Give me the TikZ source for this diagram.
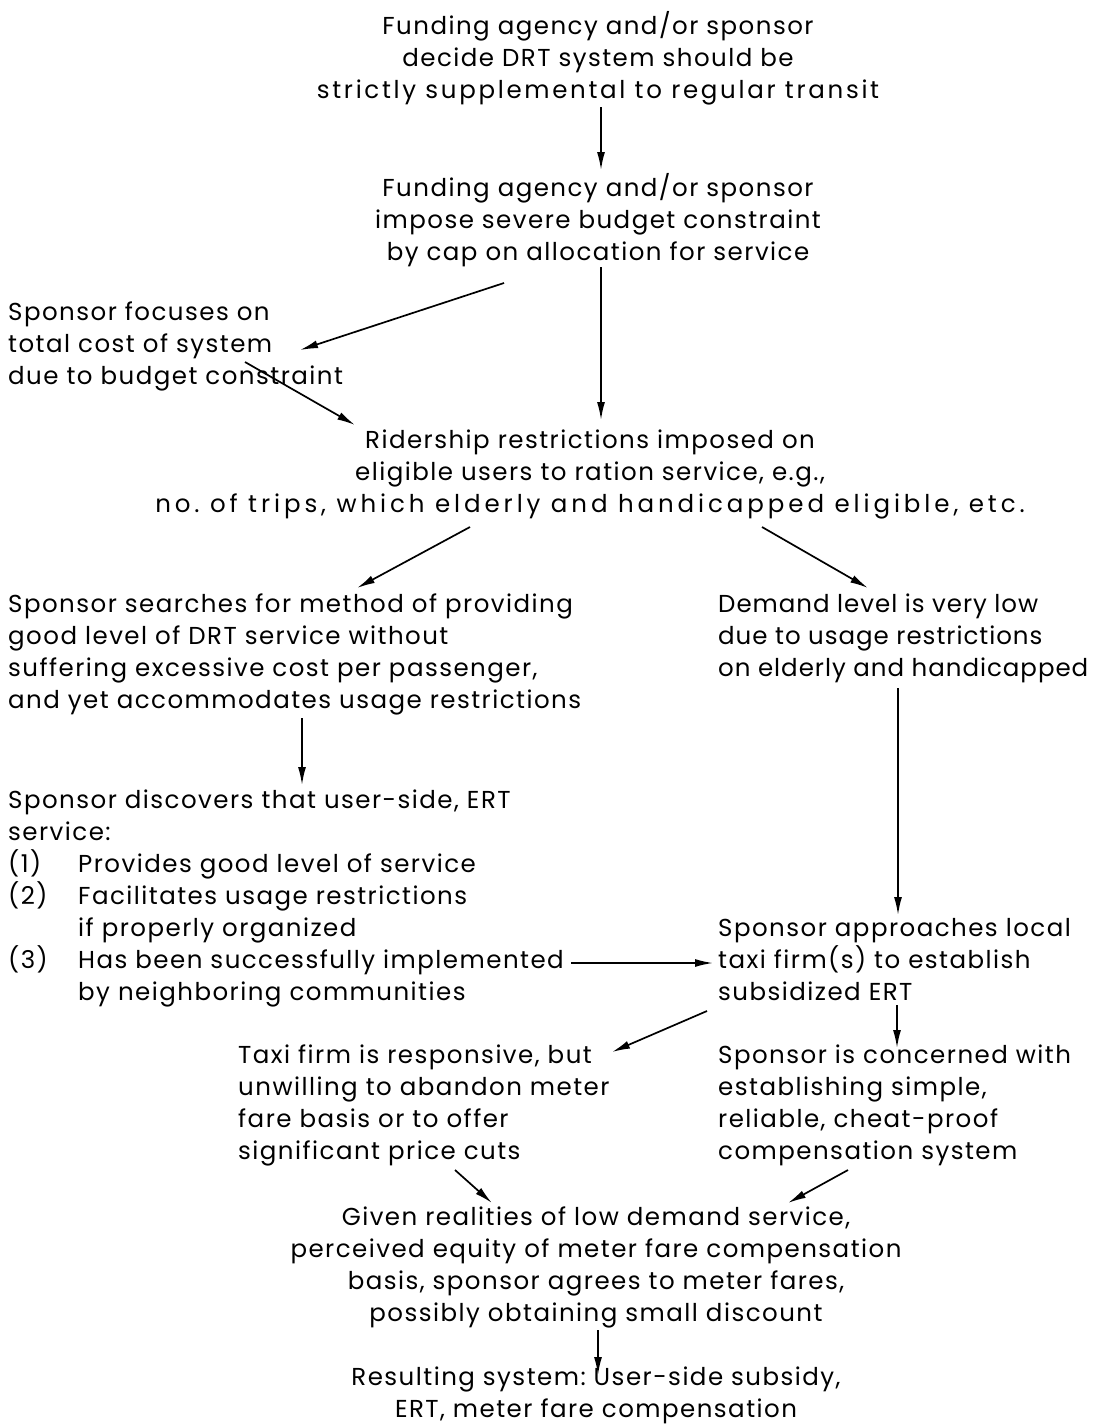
\documentclass[tikz,border=0pt]{standalone}
\usepackage{fontspec}
\setmainfont[LetterSpace=6]{Poppins}
\usetikzlibrary{arrows.meta, calc}
\frenchspacing

\begin{document}
\begin{tikzpicture}[x=1pt, y=-1pt,
		every node/.style={inner sep=0pt, font=\fontsize{24.5}{32}\selectfont},
		flow/.style={line width=1.7pt, -{Latex[length=18pt, width=8pt]}}]
		\useasboundingbox (0,0) rectangle (1096,1427);
		\node[anchor=north, align=center](agency)at(598,11){Funding agency and/or sponsor\\decide DRT system should be\\{\addfontfeature{LetterSpace=11}strictly supplemental to regular transit}};
		\node[anchor=north, align=center](budget)at(598,173){Funding agency and/or sponsor\\impose severe budget constraint\\by cap on allocation for service};
		\node[anchor=north west, align=left](focus)at(8,302){Sponsor focuses on\\total cost of system\\due to budget constraint};
		\node[anchor=north, align=center](rider)at(590,430){Ridership restrictions imposed on\\eligible users to ration service, e.g.,\\{\addfontfeature{LetterSpace=16}no. of trips, which elderly and handicapped eligible, etc.}};
		\node[anchor=north west, align=left](search)at(8,594){Sponsor searches for method of providing\\good level of DRT service without\\suffering excessive cost per passenger,\\and yet accommodates usage restrictions};
		\node[anchor=north west, align=left, font=\fontsize{24.5}{32}\selectfont\addfontfeature{LetterSpace=4}](demand)at(718,594){Demand level is very low\\due to usage restrictions\\on elderly and handicapped};
		\node[anchor=north west, align=left](discover)at(8,790){Sponsor discovers that user-side, ERT\\service:\\\makebox[70pt][l]{(1)}Provides good level of service\\\makebox[70pt][l]{(2)}Facilitates usage restrictions\\\hspace*{70pt}if properly organized\\\makebox[70pt][l]{(3)}Has been successfully implemented\\\hspace*{70pt}by neighboring communities};
		\node[anchor=north west, align=left](taxi)at(718,918){Sponsor approaches local\\taxi firm(s) to establish\\subsidized ERT};
		\node[anchor=north west, align=left](firm)at(238,1045){Taxi firm is responsive, but\\unwilling to abandon meter\\fare basis or to offer\\significant price cuts};
		\node[anchor=north west, align=left](concern)at(718,1045){Sponsor is concerned with\\establishing simple,\\reliable, cheat-proof\\compensation system};
		\node[anchor=north, align=center](agree)at(596,1207){Given realities of low demand service,\\perceived equity of meter fare compensation\\basis, sponsor agrees to meter fares,\\possibly obtaining small discount};
		\node[anchor=north, align=center](result)at(596,1367){Resulting system: User-side subsidy,\\ERT, meter fare compensation};
		% connectors
		\draw[flow]($(agency.north)+(3,96)$)--($(budget.north)+(3,-3)$);
		\draw[flow]($(budget.north)+(3,94)$)--($(rider.north)+(11,-10)$);
		\draw[flow]($(budget.north)+(-94,110)$)--($(focus.north west)+(292,48)$);
		\draw[flow]($(focus.north west)+(237,60)$)--($(rider.north)+(-235,-5)$);
		\draw[flow]($(rider.north)+(-120,97)$)--($(search.north west)+(349,-6)$);
		\draw[flow]($(rider.north)+(172,97)$)--($(demand.north west)+(150,-6)$);
		\draw[flow]($(search.north west)+(294,124)$)--($(discover.north west)+(294,-5)$);
		\draw[flow]($(demand.north west)+(180,94)$)--($(taxi.north west)+(180,-3)$);
		\draw[flow]($(discover.north west)+(563,173)$)--($(taxi.north west)+(-5,45)$);
		\draw[flow]($(taxi.north west)+(-11,93)$)--($(firm.north west)+(374,7)$);
		\draw[flow]($(taxi.north west)+(179,87)$)--($(concern.north west)+(179,3)$);
		\draw[flow]($(firm.north west)+(217,125)$)--($(agree.north)+(-104,-4)$);
		\draw[flow]($(concern.north west)+(130,125)$)--($(agree.north)+(192,-4)$);
		\draw[flow]($(agree.north)+(2,123)$)--($(result.north)+(2,8)$);
	\end{tikzpicture}
\end{document}
